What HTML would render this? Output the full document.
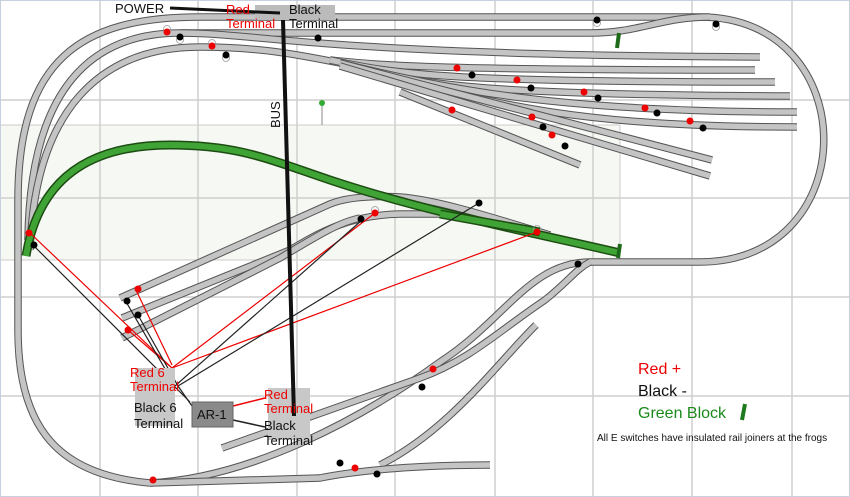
<!DOCTYPE html>
<html><head><meta charset="utf-8"><style>
html,body{margin:0;padding:0;background:#fff;}
svg{display:block;font-family:"Liberation Sans",Arial,sans-serif;}
.tb{fill:none;stroke:#555;stroke-width:7.5;}
.tf{fill:none;stroke:#c4c4c4;stroke-width:5.5;}
.gb{fill:none;stroke:#1d4d12;stroke-width:9;}
.gf{fill:none;stroke:#3fa335;stroke-width:6;}
.r{fill:#e00;} .k{fill:#000;}
</style></head><body>
<svg width="850" height="497" viewBox="0 0 850 497" xmlns="http://www.w3.org/2000/svg">
<rect x="0" y="0" width="850" height="497" fill="#fff"/>
<rect x="0" y="125" width="620" height="135" fill="#f6f8f4" stroke="#ccc" stroke-width="1"/>
<g stroke="#cfcfcf" stroke-width="1.5">
<line x1="100" y1="0" x2="100" y2="497"/><line x1="198" y1="0" x2="198" y2="497"/>
<line x1="297" y1="0" x2="297" y2="497"/><line x1="395" y1="0" x2="395" y2="497"/>
<line x1="495" y1="0" x2="495" y2="497"/><line x1="593" y1="0" x2="593" y2="497"/>
<line x1="692" y1="0" x2="692" y2="497"/><line x1="792" y1="0" x2="792" y2="497"/>
<line x1="0" y1="100" x2="850" y2="100"/><line x1="0" y1="198" x2="850" y2="198"/>
<line x1="0" y1="297" x2="850" y2="297"/><line x1="0" y1="396" x2="850" y2="396"/>
</g>
<rect x="0.5" y="0.5" width="849" height="496" fill="none" stroke="#c8d0e0"/>

<g id="tracks">
<!-- outer loop -->
<path class="tb" d="M150,483 C60,475 18,430 18,330 L18,200 C18,60 80,17 200,17 L700,17 C865,17 865,262 700,262 L590,262 C530,262 505,320 440,362 C360,420 250,478 150,483"/>
<path class="tf" d="M150,483 C60,475 18,430 18,330 L18,200 C18,60 80,17 200,17 L700,17 C865,17 865,262 700,262 L590,262 C530,262 505,320 440,362 C360,420 250,478 150,483"/>
<!-- second -->
<path class="tb" d="M28,240 C30,90 90,33 180,33 L590,33 C640,33 660,17 710,17"/>
<path class="tf" d="M28,240 C30,90 90,33 180,33 L590,33 C640,33 660,17 710,17"/>
<!-- third -->
<path class="tb" d="M30,250 C35,110 100,47 200,47 C260,47 300,55 340,63"/>
<path class="tf" d="M30,250 C35,110 100,47 200,47 C260,47 300,55 340,63"/>
<!-- sidings -->
<g>
<path class="tb" d="M180,33 C260,33 320,55 760,57"/><path class="tf" d="M180,33 C260,33 320,55 760,57"/>
<path class="tb" d="M330,60 C380,65 420,70 755,70"/><path class="tf" d="M330,60 C380,65 420,70 755,70"/>
<path class="tb" d="M330,60 C400,75 450,82 775,82"/><path class="tf" d="M330,60 C400,75 450,82 775,82"/>
<path class="tb" d="M340,63 C420,85 480,95 790,96"/><path class="tf" d="M340,63 C420,85 480,95 790,96"/>
<path class="tb" d="M340,63 C450,90 560,112 797,112"/><path class="tf" d="M340,63 C450,90 560,112 797,112"/>
<path class="tb" d="M340,63 C480,100 560,127 797,127"/><path class="tf" d="M340,63 C480,100 560,127 797,127"/>
<path class="tb" d="M340,63 L712,160"/><path class="tf" d="M340,63 L712,160"/>
<path class="tb" d="M340,66 L710,176"/><path class="tf" d="M340,66 L710,176"/>
<path class="tb" d="M400,92 L580,165"/><path class="tf" d="M400,92 L580,165"/>
</g>
<!-- lower-left diagonal tracks -->
<path class="tb" d="M120,298 L330,204 C350,196 380,196 400,197 C440,200 500,220 550,235"/>
<path class="tf" d="M120,298 L330,204 C350,196 380,196 400,197 C440,200 500,220 550,235"/>
<path class="tb" d="M122,318 L290,250 C320,232 350,215 400,214 L440,214"/>
<path class="tf" d="M122,318 L290,250 C320,232 350,215 400,214 L440,214"/>
<path class="tb" d="M122,338 L280,258 C320,234 340,222 360,218"/>
<path class="tf" d="M122,338 L280,258 C320,234 340,222 360,218"/>
<!-- lower tracks -->
<path class="tb" d="M222,448 L420,378 C470,360 500,330 545,300 C570,280 575,270 590,262"/>
<path class="tf" d="M222,448 L420,378 C470,360 500,330 545,300 C570,280 575,270 590,262"/>
<path class="tb" d="M380,465 C450,430 500,360 536,325"/><path class="tf" d="M380,465 C450,430 500,360 536,325"/>
<path class="tb" d="M150,483 L320,478 C360,470 420,465 490,465"/><path class="tf" d="M150,483 L320,478 C360,470 420,465 490,465"/>
</g>

<!-- green block -->
<path class="gb" d="M26,256 C40,170 100,145 170,145 C240,145 270,160 330,180 C420,210 520,230 620,253"/>
<path class="gf" d="M26,256 C40,170 100,145 170,145 C240,145 270,160 330,180 C420,210 520,230 620,253"/>
<path class="gb" d="M440,214 L540,232"/><path class="gf" d="M440,214 L540,232"/>
<path stroke="#1d6b18" stroke-width="4" d="M617,48 L619,33 M618,258 L620,244"/>

<!-- wires -->
<g stroke-width="1.2" fill="none">
<line x1="30" y1="233" x2="172" y2="368" stroke="#e00"/>
<line x1="135" y1="288" x2="172" y2="365" stroke="#e00"/>
<line x1="128" y1="330" x2="172" y2="368" stroke="#e00"/>
<line x1="172" y1="368" x2="375" y2="213" stroke="#e00"/>
<line x1="172" y1="368" x2="537" y2="232" stroke="#e00"/>
<line x1="233" y1="406" x2="265" y2="398" stroke="#e00" stroke-width="1.5"/>
<line x1="34" y1="246" x2="190" y2="402" stroke="#222"/>
<line x1="125" y1="300" x2="175" y2="386" stroke="#222"/>
<line x1="138" y1="315" x2="178" y2="386" stroke="#222"/>
<line x1="175" y1="386" x2="362" y2="220" stroke="#222"/>
<line x1="178" y1="386" x2="479" y2="203" stroke="#222"/>
<line x1="178" y1="386" x2="192" y2="406" stroke="#222"/>
<line x1="233" y1="420" x2="265" y2="427" stroke="#222" stroke-width="1.5"/>
</g>
<line x1="322" y1="103" x2="322" y2="125" stroke="#888"/><circle cx="322" cy="103" r="3" fill="#3a3"/>

<!-- boxes -->
<rect x="255" y="5" width="80" height="15" fill="#bbb"/>
<rect x="135" y="368" width="40" height="58" fill="#c8c8c8"/>
<rect x="268" y="388" width="42" height="52" fill="#c8c8c8"/>
<rect x="192" y="402" width="41" height="25" fill="#8a8a8a" stroke="#666"/>
<line x1="170" y1="8" x2="280" y2="13" stroke="#111" stroke-width="3"/>
<line x1="283" y1="20" x2="294" y2="416" stroke="#111" stroke-width="4"/>

<!-- dots -->
<g fill="none" stroke="#999" stroke-width="0.8">
<circle cx="167" cy="29" r="3.5"/><circle cx="212" cy="43" r="3.5"/><circle cx="180" cy="40" r="3.5"/><circle cx="226" cy="58" r="3.5"/>
<circle cx="597" cy="23" r="3.5"/><circle cx="716" cy="27" r="3.5"/><circle cx="375" cy="210" r="3.5"/><circle cx="537" cy="229" r="3.5"/>
</g>
<g class="r">
<circle cx="167" cy="32" r="3.5"/><circle cx="212" cy="46" r="3.5"/><circle cx="457" cy="68" r="3.5"/><circle cx="517" cy="80" r="3.5"/>
<circle cx="584" cy="92" r="3.5"/><circle cx="645" cy="108" r="3.5"/><circle cx="690" cy="121" r="3.5"/>
<circle cx="452" cy="110" r="3.5"/><circle cx="532" cy="117" r="3.5"/><circle cx="552" cy="135" r="3.5"/>
<circle cx="29" cy="233" r="3.5"/><circle cx="138" cy="289" r="3.5"/><circle cx="128" cy="330" r="3.5"/>
<circle cx="375" cy="213" r="3.5"/><circle cx="537" cy="232" r="3.5"/><circle cx="153" cy="480" r="3.5"/>
<circle cx="355" cy="468" r="3.5"/><circle cx="433" cy="369" r="3.5"/>
</g>
<g class="k">
<circle cx="180" cy="37" r="3.5"/><circle cx="226" cy="55" r="3.5"/><circle cx="318" cy="38" r="3.5"/><circle cx="597" cy="20" r="3.5"/>
<circle cx="716" cy="24" r="3.5"/><circle cx="472" cy="75" r="3.5"/><circle cx="531" cy="88" r="3.5"/><circle cx="598" cy="98" r="3.5"/>
<circle cx="657" cy="113" r="3.5"/><circle cx="703" cy="128" r="3.5"/><circle cx="543" cy="127" r="3.5"/><circle cx="565" cy="146" r="3.5"/>
<circle cx="34" cy="245" r="3.5"/><circle cx="127" cy="301" r="3.5"/><circle cx="138" cy="315" r="3.5"/><circle cx="361" cy="219" r="3.5"/>
<circle cx="479" cy="203" r="3.5"/><circle cx="578" cy="264" r="3.5"/><circle cx="422" cy="387" r="3.5"/><circle cx="340" cy="463" r="3.5"/><circle cx="377" cy="474" r="3.5"/>
</g>

<!-- labels -->
<g font-size="13">
<text x="115" y="13" fill="#111">POWER</text>
<text x="226" y="14" fill="#e00">Red</text>
<text x="226" y="28" fill="#e00">Terminal</text>
<text x="289" y="14" fill="#111">Black</text>
<text x="289" y="28" fill="#111">Terminal</text>
<text transform="translate(280,128) rotate(-90)" fill="#111">BUS</text>
<text x="130" y="377" fill="#e00">Red 6</text>
<text x="130" y="391" fill="#e00">Terminal</text>
<text x="134" y="412" fill="#111">Black 6</text>
<text x="134" y="428" fill="#111">Terminal</text>
<text x="197" y="419" fill="#111">AR-1</text>
<text x="264" y="399" fill="#e00">Red</text>
<text x="264" y="413" fill="#e00">Terminal</text>
<text x="264" y="430" fill="#111">Black</text>
<text x="264" y="445" fill="#111">Terminal</text>
</g>
<g font-size="16">
<text x="638" y="374" fill="#e00">Red +</text>
<text x="638" y="396" fill="#111">Black -</text>
<text x="638" y="418" fill="#1a8a1a">Green Block</text>
</g>
<line x1="745" y1="404" x2="742" y2="420" stroke="#1d7a1d" stroke-width="4"/>
<text x="597" y="441" font-size="10" fill="#111">All E switches have insulated rail joiners at the frogs</text>
</svg>
</body></html>
